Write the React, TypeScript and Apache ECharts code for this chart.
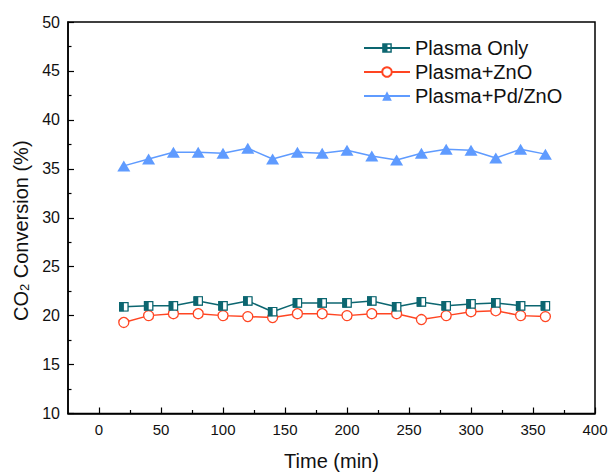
import React, { useEffect, useRef } from "react";
import * as echarts from "echarts";

const times = [20, 40, 60, 80, 100, 120, 140, 160, 180, 200, 220, 240, 260, 280, 300, 320, 340, 360];
const plasmaOnly = [20.9, 21.0, 21.0, 21.5, 21.0, 21.5, 20.4, 21.3, 21.3, 21.3, 21.5, 20.9, 21.4, 21.0, 21.2, 21.3, 21.0, 21.0];
const plasmaZnO = [19.3, 20.0, 20.2, 20.2, 20.0, 19.9, 19.8, 20.2, 20.2, 20.0, 20.2, 20.2, 19.6, 20.0, 20.4, 20.5, 20.0, 19.9];
const plasmaPdZnO = [35.3, 36.0, 36.7, 36.7, 36.6, 37.1, 36.0, 36.7, 36.6, 36.9, 36.3, 35.9, 36.6, 37.0, 36.9, 36.1, 37.0, 36.5];
const seriesNames = ["Plasma Only", "Plasma+ZnO", "Plasma+Pd/ZnO"];
const xMajorTicks = [0, 50, 100, 150, 200, 250, 300, 350, 400];
const xMinorTicks = [25, 75, 125, 175, 225, 275, 325, 375];

const TEAL = "#0c6670";
const RED = "#ff4522";
const BLUE = "#5f9bff";
const FONT = "Arial, 'Liberation Sans', Helvetica, sans-serif";
const HALF_SQ = "path://M0,0H10V10H0Z M5.5,1.5V8.5H8.5V1.5Z";

const pairs = (ys: number[]) => times.map((t, i) => [t, ys[i]]);

export default function App() {
  const ref = useRef<HTMLDivElement>(null);
  useEffect(() => {
    if (!ref.current) return;
    const chart = echarts.init(ref.current, undefined, { renderer: "svg" });
    const option: any = {
      animation: false,
      backgroundColor: "#ffffff",
      grid: {
        left: 68,
        right: 15,
        top: 22,
        bottom: 59.5,
        containLabel: false,
        outerBoundsMode: "none",
        show: true,
        borderColor: "#000",
        borderWidth: 1.5,
        backgroundColor: "transparent",
      },
      legend: {
        data: seriesNames,
        orient: "vertical",
        left: 363,
        top: 38,
        padding: 0,
        itemWidth: 46,
        itemHeight: 12,
        itemGap: 4,
        selectedMode: false,
        textStyle: { fontSize: 20, fontFamily: FONT, color: "#111", lineHeight: 20 },
      },
      xAxis: [
        {
          type: "value",
          min: -25,
          max: 400,
          name: "Time (min)",
          nameLocation: "middle",
          nameGap: 37,
          nameTextStyle: { fontSize: 20, fontFamily: FONT, color: "#111" },
          axisLine: { show: true, onZero: false, lineStyle: { color: "#000", width: 1.5 } },
          axisTick: { show: true, inside: true, length: 6, customValues: xMajorTicks, lineStyle: { color: "#000", width: 1.2 } },
          axisLabel: { customValues: xMajorTicks, fontSize: 15, fontFamily: FONT, color: "#111", margin: 8 },
          splitLine: { show: false },
        },
        {
          type: "value",
          min: -25,
          max: 400,
          position: "bottom",
          axisLine: { show: false },
          axisTick: { show: true, inside: true, length: 3.5, customValues: xMinorTicks, lineStyle: { color: "#000", width: 1.2 } },
          axisLabel: { show: false },
          splitLine: { show: false },
        },
      ],
      yAxis: {
        type: "value",
        min: 10,
        max: 50,
        interval: 5,
        name: "CO{sub|2} Conversion (%)",
        nameLocation: "middle",
        nameGap: 35,
        nameTextStyle: {
          fontSize: 20,
          fontFamily: FONT,
          color: "#111",
          padding: [0, 26, 0, 0],
          rich: {
            sub: { fontSize: 13, fontFamily: FONT, color: "#111", verticalAlign: "bottom" },
          },
        },
        axisLine: { show: true, onZero: false, lineStyle: { color: "#000", width: 1.5 } },
        axisTick: { show: true, inside: true, length: 6, lineStyle: { color: "#000", width: 1.2 } },
        minorTick: { show: true, splitNumber: 2, length: 3.5, lineStyle: { color: "#000", width: 1.2 } },
        axisLabel: { fontSize: 16, fontFamily: FONT, color: "#111", margin: 8 },
        splitLine: { show: false },
      },
      series: [
        {
          name: seriesNames[0],
          type: "line",
          z: 2,
          data: pairs(plasmaOnly),
          symbol: HALF_SQ,
          symbolSize: 9,
          lineStyle: { color: TEAL, width: 1.5 },
          itemStyle: { color: TEAL },
        },
        {
          name: "po-bg",
          type: "line",
          z: 3,
          silent: true,
          data: pairs(plasmaOnly),
          symbol: "rect",
          symbolSize: 8.4,
          lineStyle: { width: 0, opacity: 0 },
          itemStyle: { color: "#ffffff", borderColor: TEAL, borderWidth: 1.2 },
        },
        {
          name: "po-half",
          type: "line",
          z: 4,
          silent: true,
          data: pairs(plasmaOnly),
          symbol: "rect",
          symbolSize: [4.6, 9],
          symbolOffset: [-2.2, 0],
          lineStyle: { width: 0, opacity: 0 },
          itemStyle: { color: TEAL },
        },
        {
          name: seriesNames[1],
          type: "line",
          z: 2,
          data: pairs(plasmaZnO),
          symbol: "circle",
          symbolSize: 10,
          lineStyle: { color: RED, width: 1.5 },
          itemStyle: { color: "#ffffff", borderColor: RED, borderWidth: 1.3 },
        },
        {
          name: seriesNames[2],
          type: "line",
          z: 2,
          data: pairs(plasmaPdZnO),
          symbol: "triangle",
          symbolSize: [13, 11],
          lineStyle: { color: BLUE, width: 1.5 },
          itemStyle: { color: BLUE },
        },
      ],
    };
    chart.setOption(option);
    return () => chart.dispose();
  }, []);
  return (
    <div
      ref={ref}
      style={{ position: "absolute", left: 0, top: 0, width: 610, height: 473, background: "#fff" }}
    />
  );
}
